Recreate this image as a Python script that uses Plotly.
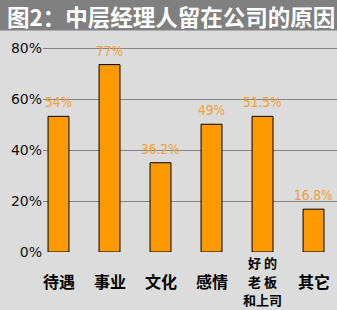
import plotly.graph_objects as go

# ---- data ----
categories = ["待遇", "事业", "文化", "感情", "好 的<br>老 板<br>和上司", "其它"]
bar_values = [53.2, 73.5, 35.0, 50.1, 53.2, 16.8]
value_labels = ["54%", "77%", "36.2%", "49%", "51.5%", "16.8%"]
y_ticks = [0, 20, 40, 60, 80]
y_tick_text = ["0%", "20%", "40%", "60%", "80%"]
title_text = "图2：中层经理人留在公司的原因"

W, H = 337, 310
ML, MR, MT, MB = 43, 0, 40, 58
plot_h = H - MT - MB
px_per_unit = 2.55
y_max = plot_h / px_per_unit

bg = "#dcdcdc"
orange = "#ff9900"
label_orange = "#f2a035"

x_idx = list(range(len(categories)))

fig = go.Figure()
fig.add_trace(go.Bar(
    x=x_idx, y=bar_values, width=0.41,
    marker=dict(color=orange, line=dict(color="#000000", width=1)),
    hoverinfo="skip",
))

annotations = []
# value labels above bars
for xi, v, t in zip(x_idx, bar_values, value_labels):
    annotations.append(dict(
        x=xi, y=v, xref="x", yref="y", text=t, showarrow=False,
        yanchor="middle", xanchor="center", yshift=14,
        font=dict(family="Liberation Sans Narrow, DejaVu Sans Condensed, sans-serif",
                  size=13.5, color=label_orange),
    ))

# category labels (below plot), one annotation per line
for xi, c in zip(x_idx, categories):
    lines = c.split("<br>")
    n = len(lines)
    size = 16 if n == 1 else 13
    step = 18.9
    for i, ln in enumerate(lines):
        center = 281 + (i - (n - 1) / 2) * step
        annotations.append(dict(
            x=xi, y=0, xref="x", yref="paper", text="<b>" + ln + "</b>",
            showarrow=False, xanchor="center", yanchor="middle",
            yshift=-(center - (H - MB)),
            font=dict(family="Noto Sans CJK SC", size=size, color="#000000"),
        ))

# title
annotations.append(dict(
    x=0, y=1, xref="paper", yref="paper", text="<b>" + title_text + "</b>",
    showarrow=False, xanchor="left", yanchor="middle",
    xshift=-ML + 5, yshift=MT - 16,
    font=dict(family="Noto Sans CJK SC", size=22.5, color="#ffffff"),
))

fig.add_shape(type="rect", xref="paper", yref="paper",
              x0=-ML / (W - ML - MR), x1=1.01,
              y0=1 + (MT - 30.5) / plot_h, y1=1 + MT / plot_h + 0.01,
              fillcolor="#808080", line=dict(width=0), layer="below")

fig.update_layout(
    width=W, height=H,
    margin=dict(l=ML, r=MR, t=MT, b=MB, pad=0),
    paper_bgcolor=bg, plot_bgcolor=bg,
    showlegend=False,
    annotations=annotations,
    xaxis=dict(range=[-0.304, 5.46], showticklabels=False, showgrid=False,
               zeroline=False, showline=False, fixedrange=True),
    yaxis=dict(range=[0, y_max], tickvals=y_ticks, ticktext=y_tick_text,
               showgrid=True, gridcolor="#858585", gridwidth=1,
               zeroline=False, showline=False, ticks="",
               tickfont=dict(family="DejaVu Sans", size=14, color="#111111"),
               fixedrange=True),
)

fig.write_html("out.html", config={"displayModeBar": False})
